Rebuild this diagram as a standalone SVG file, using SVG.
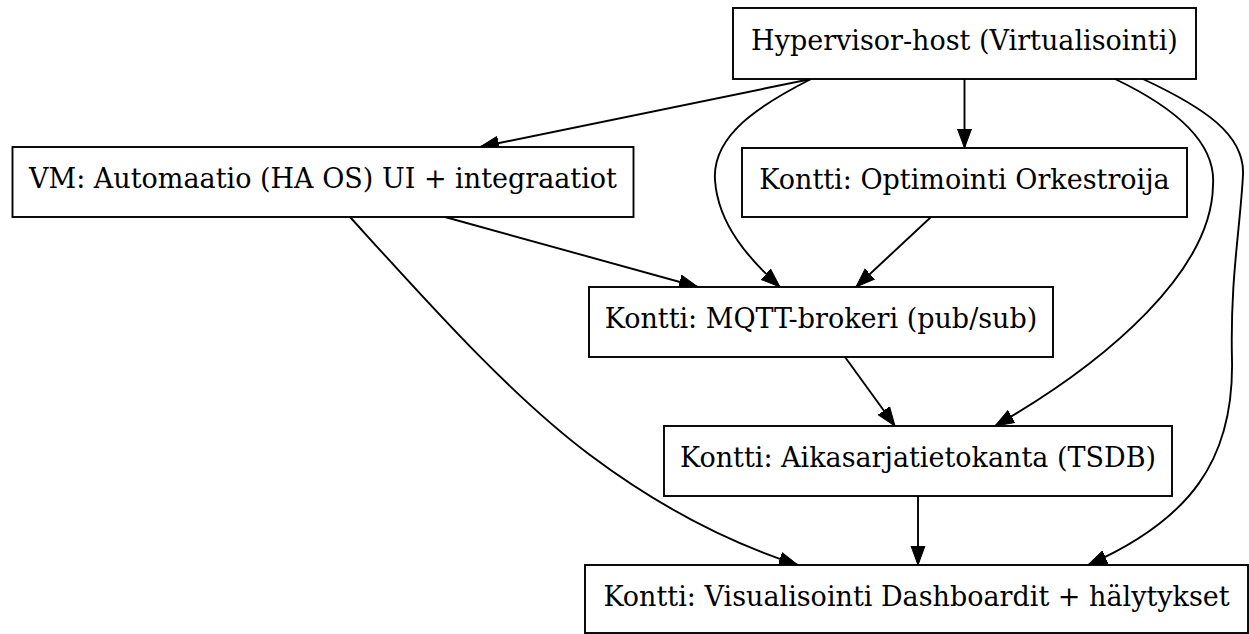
<svg xmlns="http://www.w3.org/2000/svg" width="1249" height="634" viewBox="0 0 1249 634">
<style>
.box{fill:#fff;stroke:#000;stroke-width:1.9}
.lbl{font-family:"DejaVu Serif","Liberation Serif",serif;font-size:27px;fill:#000;text-anchor:middle}
.edge{fill:none;stroke:#000;stroke-width:1.9}
</style>
<defs>
<marker id="ah" markerUnits="userSpaceOnUse" markerWidth="20" markerHeight="16" viewBox="0 0 20 16" refX="19" refY="8" orient="auto">
<path d="M0,1 L19,8 L0,15 Z" fill="#000" stroke="#000" stroke-width="1"/>
</marker>
</defs>
<rect width="1249" height="634" fill="#fff"/>
<g id="edges">
<path class="edge" marker-end="url(#ah)" d="M811,79 L480,147"/>
<path class="edge" marker-end="url(#ah)" d="M811,79 C760,105 712,135 715,180 C718,225 750,260 780,287"/>
<path class="edge" marker-end="url(#ah)" d="M964.5,79 L964.5,148"/>
<path class="edge" marker-end="url(#ah)" d="M1115,79 C1180,110 1216,145 1213,185 C1212,270 1110,360 995,426"/>
<path class="edge" marker-end="url(#ah)" d="M1143,79 C1205,108 1245,135 1243,175 C1240,230 1230,280 1232,360 C1234,460 1190,520 1088,565"/>
<path class="edge" marker-end="url(#ah)" d="M445,217 L698,287"/>
<path class="edge" marker-end="url(#ah)" d="M350,217 C430,305 510,395 590,455 C650,500 720,540 798,565"/>
<path class="edge" marker-end="url(#ah)" d="M931,217 L856,287"/>
<path class="edge" marker-end="url(#ah)" d="M845,357 L895,426"/>
<path class="edge" marker-end="url(#ah)" d="M918,496 L918,565"/>
</g>
<g id="hypervisor">
<rect class="box" x="733" y="8" width="463" height="71"/>
<text class="lbl" x="964.5" y="50">Hypervisor-host (Virtualisointi)</text>
</g>
<g id="vm">
<rect class="box" x="12.5" y="147" width="621" height="70"/>
<text class="lbl" x="323" y="188">VM: Automaatio (HA OS) UI + integraatiot</text>
</g>
<g id="optimointi">
<rect class="box" x="742" y="148" width="445" height="69"/>
<text class="lbl" x="964.5" y="188.5">Kontti: Optimointi Orkestroija</text>
</g>
<g id="mqtt">
<rect class="box" x="589" y="287" width="464" height="70"/>
<text class="lbl" x="821" y="328">Kontti: MQTT-brokeri (pub/sub)</text>
</g>
<g id="tsdb">
<rect class="box" x="664" y="426" width="508" height="70"/>
<text class="lbl" x="918" y="467">Kontti: Aikasarjatietokanta (TSDB)</text>
</g>
<g id="visual">
<rect class="box" x="585" y="565" width="663" height="68"/>
<text class="lbl" x="916.5" y="606">Kontti: Visualisointi Dashboardit + hälytykset</text>
</g>
</svg>
